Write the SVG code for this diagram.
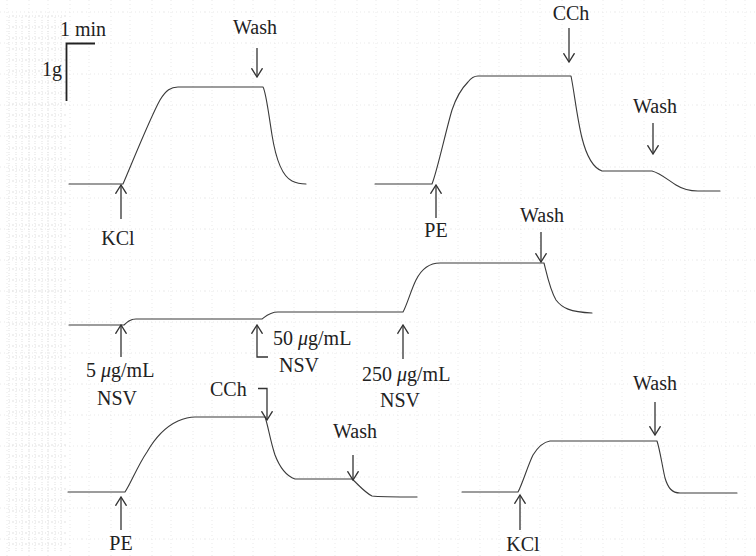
<svg xmlns="http://www.w3.org/2000/svg" width="756" height="556" viewBox="0 0 756 556">
<defs>
<style>
.tr{fill:none;stroke:#3a3a3a;stroke-width:1.1;stroke-linejoin:round;stroke-linecap:round}
.ar{fill:none;stroke:#333;stroke-width:1.3;marker-end:url(#ah)}
.lb{font-family:"Liberation Serif","Times New Roman",serif;font-size:20px;fill:#222}
.mid{text-anchor:middle}
.sb{fill:none;stroke:#222;stroke-width:1.8}
</style>
<marker id="ah" viewBox="0 0 10 12" refX="9.3" refY="6" markerWidth="10" markerHeight="12" markerUnits="userSpaceOnUse" orient="auto">
<path d="M0.5,0.5 L9.3,6 L0.5,11.5" fill="none" stroke="#333" stroke-width="1.3"/>
</marker>
<pattern id="grain" width="41" height="31" patternUnits="userSpaceOnUse">
<path d="M7,0 V31 M29,0 V31 M0,12 H41" stroke="#c8c8c8" stroke-width="0.7" stroke-dasharray="1 3" fill="none"/>
</pattern>
<pattern id="grain2" width="13" height="11" patternUnits="userSpaceOnUse">
<path d="M3,0 V11 M9,0 V11 M0,5 H13" stroke="#b4b4b4" stroke-width="0.7" stroke-dasharray="1 2" fill="none"/>
</pattern>
</defs>
<rect width="756" height="556" fill="#ffffff"/>
<g id="background" opacity="0.55">
<rect x="0" y="0" width="756" height="556" fill="url(#grain)"/>
<rect x="8" y="15" width="58" height="536" fill="url(#grain2)"/>
</g>

<g id="scale-bar">
<path class="sb" d="M95,43.5 H66.5 V101"/>
<text class="lb" x="60" y="36">1 min</text>
<text class="lb" x="42" y="76">1g</text>
</g>

<g id="traces">
<path id="trace-kcl-top" class="tr" d="M69,184 H123 C130,168 150,118 160,100 C166,90 171,87 178,87 H263 C266,92 268,110 272,135 C276,160 282,176 292,181 C296,183 300,184 306,184"/>
<path id="trace-pe-top" class="tr" d="M375,184 H432 C437,172 446,130 452,110 C456,98 462,88 468,82 C471,78 474,76 478,76 H571 C574,90 577,118 582,138 C587,158 594,168 602,171 H652 C660,173 668,180 676,185 C684,190 692,191 698,191 H720"/>
<path id="trace-nsv" class="tr" d="M69,325 H124 C127,322 130,319 136,319 H262 C266,316 270,312 278,312 H403 C407,305 411,290 416,280 C421,270 428,263 440,263 H544 C547,275 550,290 556,300 C562,308 570,312 592,313"/>
<path id="trace-pe-bottom" class="tr" d="M68,492 H125 C130,485 138,465 147,452 C155,438 165,427 178,421 C185,418 190,417 195,417 H265 C268,425 270,440 275,455 C280,468 286,476 295,479 H352 C358,484 364,492 372,496 C380,497 395,497 417,497"/>
<path id="trace-kcl-bottom" class="tr" d="M462,492 H518 C522,485 528,465 533,455 C538,447 543,442 550,441 H657 C660,450 662,465 665,478 C668,488 672,493 680,493 H737"/>
</g>

<g id="connectors">
<path class="ar" d="M257,48 V77"/>
<path class="ar" d="M121,219 V185"/>
<path class="ar" d="M436,218 V185"/>
<path class="ar" d="M569,28 V62"/>
<path class="ar" d="M653,123 V154"/>
<path class="ar" d="M541,232 V262"/>
<path class="ar" d="M121,357 V325"/>
<path class="ar" d="M268,357 H257 V325"/>
<path class="ar" d="M403,359 V325"/>
<path class="ar" d="M258,388.5 H267 V420"/>
<path class="ar" d="M353,455 V480"/>
<path class="ar" d="M121,530 V497"/>
<path class="ar" d="M655,402 V435"/>
<path class="ar" d="M520,530 V495"/>
</g>

<g id="label-wash-1"><text class="lb mid" x="255" y="34">Wash</text></g>
<g id="label-kcl-1"><text class="lb mid" x="118" y="245">KCl</text></g>
<g id="label-pe-1"><text class="lb mid" x="436" y="237">PE</text></g>
<g id="label-cch-1"><text class="lb mid" x="571" y="20">CCh</text></g>
<g id="label-wash-2"><text class="lb mid" x="655" y="113">Wash</text></g>
<g id="label-wash-3"><text class="lb mid" x="542" y="222">Wash</text></g>
<g id="label-nsv-5">
<text class="lb" x="86" y="377">5 <tspan font-style="italic">μ</tspan>g/mL</text>
<text class="lb mid" x="117" y="405">NSV</text>
</g>
<g id="label-nsv-50">
<text class="lb" x="273" y="345">50 <tspan font-style="italic">μ</tspan>g/mL</text>
<text class="lb" x="279" y="372">NSV</text>
</g>
<g id="label-nsv-250">
<text class="lb" x="362" y="381">250 <tspan font-style="italic">μ</tspan>g/mL</text>
<text class="lb mid" x="400" y="407">NSV</text>
</g>
<g id="label-cch-2"><text class="lb" x="210" y="396">CCh</text></g>
<g id="label-wash-4"><text class="lb mid" x="355" y="438">Wash</text></g>
<g id="label-pe-2"><text class="lb mid" x="121" y="550">PE</text></g>
<g id="label-wash-5"><text class="lb mid" x="655" y="390">Wash</text></g>
<g id="label-kcl-2"><text class="lb mid" x="523" y="551">KCl</text></g>
</svg>
